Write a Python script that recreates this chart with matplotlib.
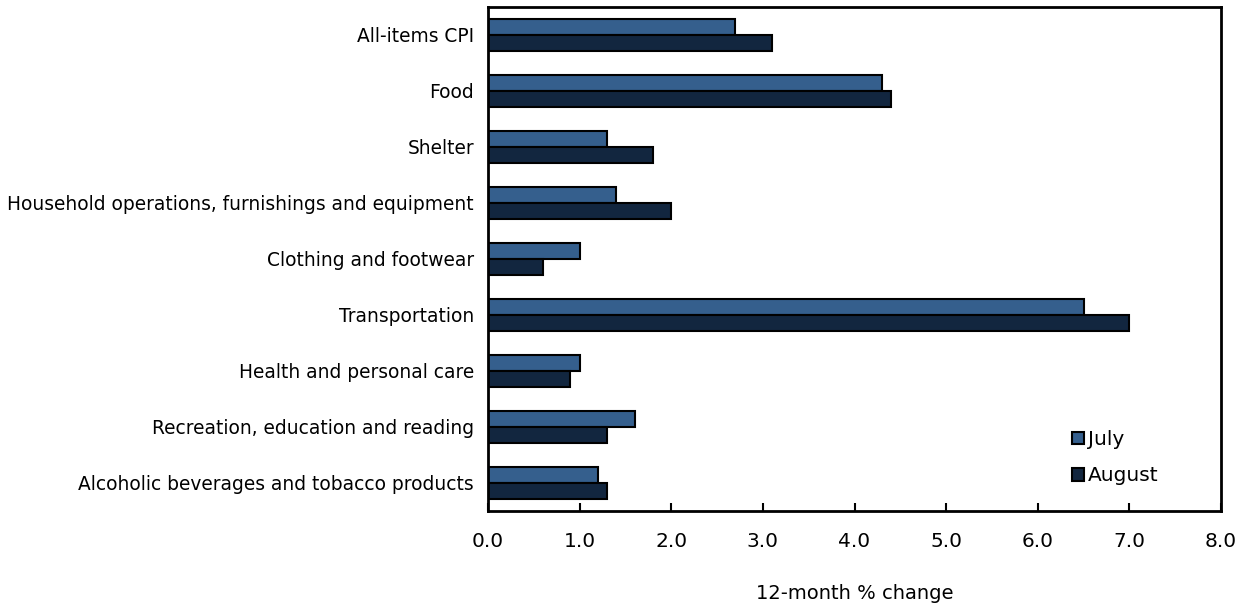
import matplotlib
matplotlib.use("Agg")
import matplotlib.pyplot as plt
import numpy as np
from matplotlib.patches import Patch

categories = [
    "All-items CPI",
    "Food",
    "Shelter",
    "Household operations, furnishings and equipment",
    "Clothing and footwear",
    "Transportation",
    "Health and personal care",
    "Recreation, education and reading",
    "Alcoholic beverages and tobacco products",
]
july = [2.7, 4.3, 1.3, 1.4, 1.0, 6.5, 1.0, 1.6, 1.2]
august = [3.1, 4.4, 1.8, 2.0, 0.6, 7.0, 0.9, 1.3, 1.3]
xticks = [0, 1, 2, 3, 4, 5, 6, 7, 8]
xticklabels = ["0.0", "1.0", "2.0", "3.0", "4.0", "5.0", "6.0", "7.0", "8.0"]
series_names = ["July", "August"]
colors = ["#355F8D", "#12263F"]

plt.rcParams["font.family"] = ["DejaVu Sans"]

fig = plt.figure(figsize=(12.51, 6.06), dpi=100)
ax = fig.add_axes([488/1251, 1-511/606, (1221-488)/1251, (511-7)/606])

y = np.arange(len(categories))
h = 0.286
ax.barh(y - h/2, july, height=h, color=colors[0], edgecolor="black", linewidth=1.5, label=series_names[0])
ax.barh(y + h/2, august, height=h, color=colors[1], edgecolor="black", linewidth=1.5, label=series_names[1])

ax.set_ylim(len(categories) - 0.5, -0.5)
ax.set_xlim(0, 8)
ax.set_yticks(y)
ax.set_yticklabels(categories, fontsize=13.4)
ax.tick_params(axis="y", length=0, pad=10)
ax.set_xticks(xticks)
ax.set_xticklabels(xticklabels, fontsize=14.5)
ax.tick_params(axis="x", direction="in", length=6, width=1.5, pad=15)
for s in ax.spines.values():
    s.set_linewidth(2)
ax.set_xlabel("12-month % change", fontsize=14, labelpad=24)

handles = [Patch(facecolor=colors[i], edgecolor="black", linewidth=1.5, label=series_names[i]) for i in range(2)]
leg = ax.legend(handles=handles, loc="lower right", bbox_to_anchor=(0.926, 0.035), frameon=False,
                handlelength=0.6, handleheight=0.6, handletextpad=0.2, labelspacing=0.85,
                borderaxespad=0, prop={"size": 14.5})

fig.savefig("out.png", dpi=100)
